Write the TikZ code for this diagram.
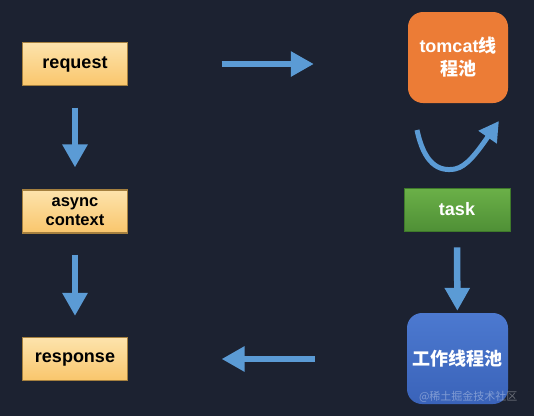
\documentclass[tikz,border=0pt]{standalone}
\usepackage{fontspec}
\setmainfont{Liberation Sans}
\newfontfamily\cjk{Noto Sans CJK SC}
\usetikzlibrary{arrows.meta,bending}
\definecolor{bg}{HTML}{1C2231}
\definecolor{arrowblue}{HTML}{5B9BD5}
\definecolor{yelTop}{HTML}{FDE3AC}
\definecolor{yelBot}{HTML}{F9C66C}
\definecolor{yelBorder}{HTML}{A5803F}
\definecolor{orangeBox}{HTML}{EC7C36}
\definecolor{greenTop}{HTML}{6BB048}
\definecolor{greenBot}{HTML}{4F9036}
\definecolor{greenBorder}{HTML}{3E7A2A}
\definecolor{blueTop}{HTML}{4C79D0}
\definecolor{blueBot}{HTML}{3A63B9}
\tikzset{
  lbl/.style={font=\fontsize{18}{20}\selectfont\bfseries, align=center},
  yelbox/.style={lbl, draw=yelBorder, line width=1.2pt, top color=yelTop, bottom color=yelBot,
    minimum width=105pt, minimum height=43pt, inner sep=0pt, text=black},
  smalltext/.style={font=\fontsize{16.5}{19}\selectfont\bfseries},
  orangebox/.style={lbl, font=\fontsize{18}{23}\selectfont\bfseries, fill=orangeBox, rounded corners=15pt,
    minimum width=100pt, minimum height=91pt, inner sep=0pt, text=white},
  greenbox/.style={lbl, draw=greenBorder, line width=0.8pt, top color=greenTop, bottom color=greenBot,
    minimum width=106pt, minimum height=43pt, inner sep=0pt, text=white},
  bluebox/.style={lbl, top color=blueTop, bottom color=blueBot, rounded corners=15pt,
    minimum width=101pt, minimum height=91pt, inner sep=0pt, text=white},
  bigarrow/.style={draw=arrowblue, line width=6.5pt, -{Triangle[width=24pt,length=23pt]}},
  curvearrow/.style={draw=arrowblue, line width=5pt, -{Triangle[width=21pt,length=20pt,bend]}},
  mark text/.style={font=\cjk\fontsize{11}{12}\selectfont, text=white, opacity=0.35}
}
\begin{document}
\begin{tikzpicture}[x=1pt,y=-1pt]
  \fill[bg] (0,0) rectangle (534,416);
  \useasboundingbox (0,0) rectangle (534,416);

  \node[yelbox] (request) at (75,64) {request};
  \node[yelbox, smalltext] (async) at (75,211.5) {async\\context};
  \node[yelbox] (response) at (75,359) {response};

  \node[orangebox] (tomcat) at (458,57.5) {tomcat{\cjk 线}\\{\cjk 程池}};
  \node[greenbox] (task) at (457,209.5) {task};
  \node[bluebox] (worker) at (457.5,358.5) {\cjk 工作线程池};

  \coordinate (cs) at (417,130);
  \coordinate (cm) at (455,169);
  \coordinate (ce) at (499,121);

  \draw[bigarrow, shorten <=93.5pt, shorten >=94pt] (request.east) -- (request.east -| tomcat.west);
  \draw[bigarrow, shorten <=21.5pt, shorten >=22pt] (request) -- (async);
  \draw[bigarrow, shorten <=21pt, shorten >=21pt] (async) -- (response);
  \draw[curvearrow] (cs) .. controls (424,163) and (438,172) .. (cm)
                         .. controls (470,166) and (483,143) .. (ce);
  \draw[bigarrow, shorten <=16pt, shorten >=2pt] (task) -- (worker);
  \draw[bigarrow, shorten <=92pt, shorten >=93.5pt] (worker.west |- response.east) -- (response.east);

  \node[mark text, anchor=east] (mark) at (521,397) {@稀土掘金技术社区};
\end{tikzpicture}
\end{document}
